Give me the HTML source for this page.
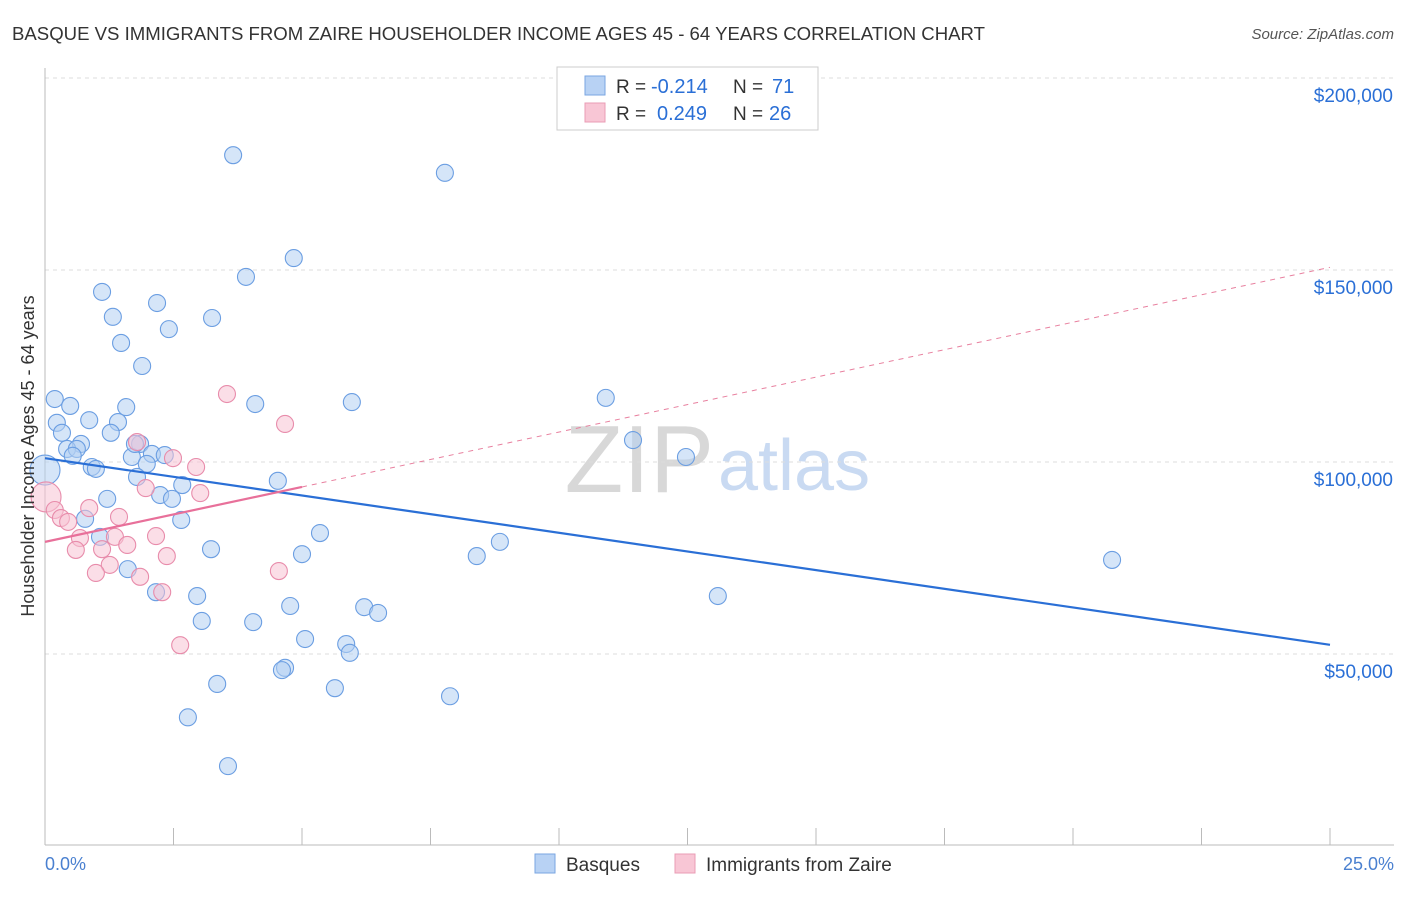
<!DOCTYPE html>
<html><head><meta charset="utf-8"><style>
body{margin:0;background:#fff;font-family:"Liberation Sans",sans-serif;}
svg text{font-family:"Liberation Sans",sans-serif;}
</style></head><body>
<svg width="1406" height="892" viewBox="0 0 1406 892">
<text x="12" y="40" font-size="18" fill="#333" textLength="973" lengthAdjust="spacingAndGlyphs">BASQUE VS IMMIGRANTS FROM ZAIRE HOUSEHOLDER INCOME AGES 45 - 64 YEARS CORRELATION CHART</text>
<text x="1394" y="39" font-size="15" fill="#555" text-anchor="end" font-style="italic">Source: ZipAtlas.com</text>
<text x="714" y="492" font-size="96" fill="#d8d8d8" text-anchor="end" font-family="Liberation Serif">ZIP</text>
<text x="718" y="490" font-size="72" fill="#c9daf2">atlas</text>
<g id="grid"></g>
<g id="axes"></g>
<g id="marks"></g>
<text transform="translate(34,456) rotate(-90)" font-size="18" fill="#333" text-anchor="middle">Householder Income Ages 45 - 64 years</text>
<text x="45" y="870" font-size="18" fill="#4a80d0">0.0%</text>
<text x="1394" y="870" font-size="18" fill="#4a80d0" text-anchor="end">25.0%</text>
<g>
<rect x="557" y="67" width="261" height="63" fill="#fff" stroke="#ccc"/>
<rect x="585" y="76" width="20" height="19" fill="#b8d2f4" stroke="#7aa6e2"/>
<rect x="585" y="103" width="20" height="19" fill="#f8c6d5" stroke="#ea9cb5"/>
<text x="616" y="93" font-size="19" fill="#333">R =</text>
<text x="651" y="93" font-size="20" fill="#2a6fd6">-0.214</text>
<text x="733" y="93" font-size="19" fill="#333">N =</text>
<text x="772" y="93" font-size="20" fill="#2a6fd6">71</text>
<text x="616" y="120" font-size="19" fill="#333">R =</text>
<text x="657" y="120" font-size="20" fill="#2a6fd6">0.249</text>
<text x="733" y="120" font-size="19" fill="#333">N =</text>
<text x="769" y="120" font-size="20" fill="#2a6fd6">26</text>
</g>
<g>
<rect x="535" y="854" width="20" height="19" fill="#b8d2f4" stroke="#7aa6e2"/>
<text x="566" y="871" font-size="19" fill="#333">Basques</text>
<rect x="675" y="854" width="20" height="19" fill="#f8c6d5" stroke="#ea9cb5"/>
<text x="706" y="871" font-size="19" fill="#333">Immigrants from Zaire</text>
</g>
</svg>
<script>
const yTicks=[50000,100000,150000,200000];
const yTickLabels=["$50,000","$100,000","$150,000","$200,000"];
const basqueX=[3.66,7.78,4.84,3.91,1.11,2.18,1.32,3.25,2.41,1.48,1.89,10.91,0.19,5.97,4.09,0.49,1.58,0.86,1.42,0.23,0.33,1.28,0.70,11.44,0.43,0.62,1.85,1.69,2.08,2.33,0.54,12.47,1.98,0.91,0.99,1.79,4.53,2.67,2.24,2.47,1.21,0.78,2.65,5.35,1.07,8.85,3.23,5.00,8.40,20.76,1.61,2.16,2.96,13.09,4.77,6.21,6.48,3.05,4.05,5.06,5.86,5.93,4.67,4.61,3.35,5.64,7.88,2.78,3.56,1.75,0.0];
const basqueY=[179900,175300,153100,148200,144300,141400,137800,137500,134600,131000,125000,116700,116400,115600,115100,114600,114300,110900,110400,110200,107600,107600,104700,105700,103400,103400,104700,101300,102100,101800,101600,101300,99500,98700,98200,96100,95100,94000,91400,90400,90400,85200,84900,81500,80500,79200,77300,76000,75500,74500,72100,66100,65100,65100,62500,62200,60700,58600,58300,53900,52600,50300,46400,45800,42200,41100,39000,33500,20800,104700,97900];
const zaireX=[3.54,4.67,1.79,2.49,2.94,1.96,3.02,0.02,0.86,0.19,0.31,1.44,1.36,2.16,0.68,1.60,0.60,1.11,2.37,1.26,4.55,0.99,1.85,2.28,2.63,0.45];
const zaireY=[117700,109900,105200,101000,98700,93200,91900,90900,88000,87500,85400,85700,80500,80700,80200,78400,77100,77300,75500,73200,71600,71100,70100,66100,52300,84400];
const blueTrend=[[0,101000],[25,52400]];
const pinkTrend=[[0,79200],[5,93500]];
const pinkDash=[[5,93500],[25,150700]];
const NS='http://www.w3.org/2000/svg';
const xs=v=>45+v*1285/25;
const ys=v=>462-(v-100000)*192/50000;
function mk(t,a,p){const e=document.createElementNS(NS,t);for(const k in a)e.setAttribute(k,a[k]);p.appendChild(e);return e;}
const grid=document.getElementById('grid'),axes=document.getElementById('axes'),marks=document.getElementById('marks');
yTicks.forEach((v,i)=>{
 const l=mk('line',{x1:45,x2:1394,y1:ys(v),y2:ys(v),stroke:'#ddd','stroke-dasharray':'4,4'},grid);
 
 
 const t=mk('text',{x:1393,y:ys(v)+24,'font-size':19,fill:'#2a6fd6','text-anchor':'end'},axes);
 t.textContent=yTickLabels[i];
 
 
});
const xa=mk('line',{x1:45,x2:1394,y1:845,y2:845,stroke:'#bbb'},axes);


const ya=mk('line',{x1:45,x2:45,y1:68,y2:845,stroke:'#bbb'},axes);


for(let i=1;i<=10;i++){const x=xs(i*2.5);const t=mk('line',{x1:x,x2:x,y1:828,y2:845,stroke:'#bbb'},axes);
 
 }
function pts(X,Y,fill,stroke,name){X.forEach((x,i)=>{const big=x<0.05;
 const c=mk('circle',{cx:xs(x),cy:ys(Y[i]),r:big?15:8.5,fill:fill,'fill-opacity':0.55,stroke:stroke,'stroke-width':1.1},marks);
 
 });}
pts(basqueX,basqueY,'#b3cff3','#6b9ee2','basque-point');
pts(zaireX,zaireY,'#f8c2d3','#e88cab','zaire-point');
function ln(d,col,dash,w,name){const l=mk('line',{x1:xs(d[0][0]),y1:ys(d[0][1]),x2:xs(d[1][0]),y2:ys(d[1][1]),stroke:col,'stroke-width':w},marks);
 if(dash)l.setAttribute('stroke-dasharray',dash);
 
 }
ln(blueTrend,'#2a6fd6',null,2.2,'basque-trendline');
ln(pinkDash,'#e8809f','5,5',1,'zaire-trendline-extension');
ln(pinkTrend,'#e8709a',null,2.2,'zaire-trendline');
</script>
</body></html>
